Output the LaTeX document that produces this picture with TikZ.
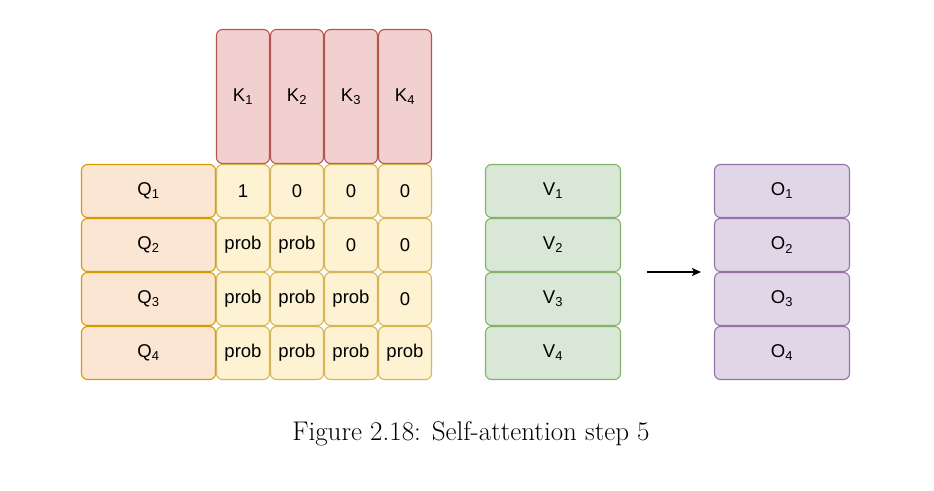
\documentclass[tikz,border=0pt]{standalone}
\usepackage{fontspec}
\usetikzlibrary{arrows.meta}
\newfontfamily\boxfont{Liberation Sans}
\definecolor{kfill}{HTML}{F3D0D0}\definecolor{kdraw}{HTML}{B85450}
\definecolor{qfill}{HTML}{FAE6D2}\definecolor{qdraw}{HTML}{D79B00}
\definecolor{cfill}{HTML}{FDF2D2}\definecolor{cdraw}{HTML}{D6B656}
\definecolor{vfill}{HTML}{D8E7D6}\definecolor{vdraw}{HTML}{82B366}
\definecolor{ofill}{HTML}{E1D6E8}\definecolor{odraw}{HTML}{9673A6}
\begin{document}
\begin{tikzpicture}[x=1pt,y=-1pt,
  cellbox/.style={draw, rounded corners=6pt, line width=1.1pt, inner sep=0pt,
    font=\boxfont\fontsize{18.5}{20}\selectfont, anchor=center},
  kbox/.style={cellbox, fill=kfill, draw=kdraw, minimum width=53pt, minimum height=134pt},
  qbox/.style={cellbox, fill=qfill, draw=qdraw, minimum width=134pt, minimum height=53pt},
  sbox/.style={cellbox, fill=cfill, draw=cdraw, minimum width=53pt, minimum height=53pt},
  vbox/.style={cellbox, fill=vfill, draw=vdraw, minimum width=135pt, minimum height=53pt},
  obox/.style={cellbox, fill=ofill, draw=odraw, minimum width=135pt, minimum height=53pt}]
\useasboundingbox (0,0) rectangle (934,490);
\fill[white] (0,0) rectangle (934,490);
% keys
\foreach \i/\x in {1/243,2/297,3/351,4/405}{
  \node[kbox] (k\i) at (\x,96.5) {K\textsubscript{\i}};
}
% queries
\foreach \i/\y in {1/191,2/245,3/299,4/353}{
  \node[qbox] (q\i) at (148.5,\y) {Q\textsubscript{\i}};
  \node[vbox] (v\i) at (553,\y) {V\textsubscript{\i}};
  \node[obox] (o\i) at (782,\y) {O\textsubscript{\i}};
}
% scores
\node[sbox] (s11) at (243,191) {1};
\node[sbox] (s12) at (297,191) {0};
\node[sbox] (s13) at (351,191) {0};
\node[sbox] (s14) at (405,191) {0};
\node[sbox] (s21) at (243,245) {prob};
\node[sbox] (s22) at (297,245) {prob};
\node[sbox] (s23) at (351,245) {0};
\node[sbox] (s24) at (405,245) {0};
\node[sbox] (s31) at (243,299) {prob};
\node[sbox] (s32) at (297,299) {prob};
\node[sbox] (s33) at (351,299) {prob};
\node[sbox] (s34) at (405,299) {0};
\node[sbox] (s41) at (243,353) {prob};
\node[sbox] (s42) at (297,353) {prob};
\node[sbox] (s43) at (351,353) {prob};
\node[sbox] (s44) at (405,353) {prob};
% arrow
\coordinate (a0) at (647,272);
\coordinate (a1) at (701,272);
\draw[-{Stealth[length=9pt,width=8pt,inset=2pt]}, line width=1.3pt] (a0) -- (a1);
% caption
\node[font=\fontsize{27}{32}\selectfont, anchor=base] (cap) at (471,440) {Figure 2.18: Self-attention step 5};
\end{tikzpicture}
\end{document}
